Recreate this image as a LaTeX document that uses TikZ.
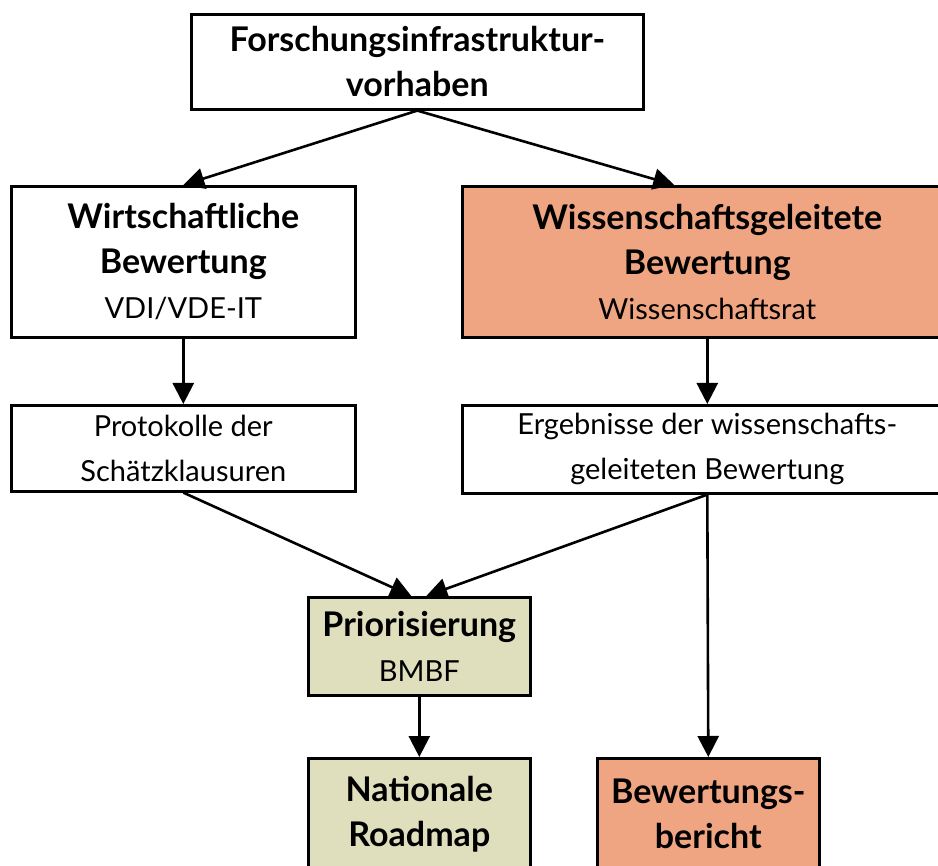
\documentclass[tikz,border=0pt]{standalone}
\usepackage{fontspec}
\setmainfont{Lato}
\usetikzlibrary{arrows.meta}
\definecolor{salmon}{RGB}{240,165,130}
\definecolor{khaki}{RGB}{223,223,189}
\tikzset{
  box/.style={draw=black, line width=2.6pt, anchor=north west, align=center, inner sep=0pt,
    font={\fontsize{29}{45}\selectfont}},
  conn/.style={line width=2.6pt, -{Triangle[length=21pt,width=21pt]}},
}
\newcommand{\bt}[1]{\textbf{\fontsize{34}{45}\selectfont #1}}
\begin{document}
\begin{tikzpicture}[x=1pt,y=-1pt]
\useasboundingbox (0,0) rectangle (938,866);
\fill[white] (0,0) rectangle (938,866);
\clip (0,0) rectangle (938,866);
\node[box, minimum width=452pt, minimum height=95pt, fill=white] (top) at (190,13)
  {\bt{Forschungsinfrastruktur-}\\\bt{vorhaben}};
\node[box, minimum width=344pt, minimum height=151pt, fill=white] (wirt) at (10,185)
  {\bt{Wirtschaftliche}\\\bt{Bewertung}\\VDI/VDE-IT};
\node[box, minimum width=490pt, minimum height=151pt, fill=salmon] (wiss) at (461,185)
  {\bt{Wissenschaftsgeleitete}\\\bt{Bewertung}\\Wissenschaftsrat};
\node[box, minimum width=344pt, minimum height=86pt, fill=white] (prot) at (10,404)
  {Protokolle der\\Schätzklausuren};
\node[box, minimum width=490pt, minimum height=88pt, fill=white] (erg) at (461,404)
  {Ergebnisse der wissenschafts-\\geleiteten Bewertung};
\node[box, minimum width=222pt, minimum height=98pt, fill=khaki] (prio) at (307,596)
  {\bt{Priorisierung}\\BMBF};
\node[box, minimum width=222pt, minimum height=112pt, fill=khaki] (road) at (307,757)
  {\bt{Nationale}\\\bt{Roadmap}};
\node[box, minimum width=222pt, minimum height=112pt, fill=salmon] (ber) at (596,757)
  {\bt{Bewertungs-}\\\bt{bericht}};
\draw[conn] (top.south) -- (wirt.north);
\draw[conn] (top.south) -- ([xshift=-33pt]wiss.north);
\draw[conn] (wirt.south) -- (prot.north);
\draw[conn] (wiss.south) -- (erg.north);
\draw[conn] (prot.south) -- ([xshift=-8pt]prio.north);
\draw[conn] (erg.south) -- ([xshift=7pt]prio.north);
\draw[conn] (erg.south) -- (ber.north);
\draw[conn] (prio.south) -- (road.north);
\end{tikzpicture}
\end{document}
